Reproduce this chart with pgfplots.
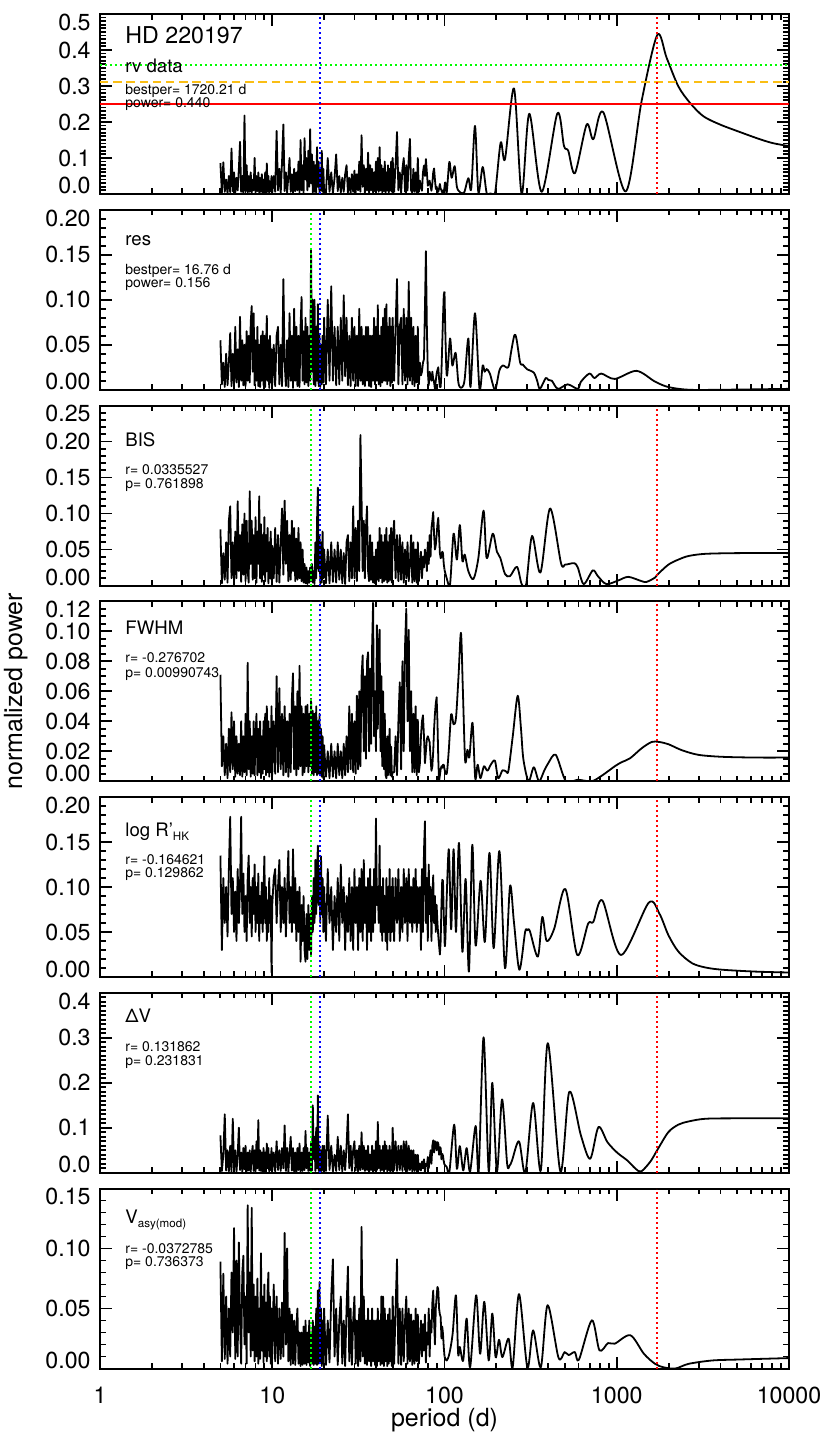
\documentclass[border=0pt]{standalone}
\usepackage{pgfplots}
\pgfplotsset{compat=1.18}
\usepackage{pgfplotstable}
\usepackage{fontspec}
\setmainfont{TeX Gyre Heros}
\definecolor{cgreen}{RGB}{0,255,0}
\definecolor{cblue}{RGB}{0,0,255}
\definecolor{cred}{RGB}{255,0,0}
\definecolor{corange}{RGB}{250,190,20}
\newcommand{\yb}[1]{\smash{#1}}
\newcommand{\yt}[1]{\raisebox{-8.2pt}[0pt][0pt]{#1}}
\newcommand{\lab}{\fontsize{9.3}{11}\selectfont}
\newcommand{\sml}{\fontsize{7}{8}\selectfont}
\newcommand{\sub}[1]{\raisebox{-2pt}{\fontsize{5.8}{6}\selectfont #1}}

\pgfplotstableread{
P a b c d e f g
5.0 0.086 0.055 0.078 0.071 0.135 0.083 0.089
5.1 0.004 0.006 0.003 0.010 0.030 0.004 0.006
5.2 0.088 0.030 0.045 0.030 0.110 0.040 0.079
5.3 0.006 0.003 0.008 0.004 0.060 0.130 0.008
5.4 0.040 0.040 0.060 0.025 0.100 0.005 0.060
5.5 0.002 0.005 0.004 0.002 0.045 0.050 0.004
5.6 0.050 0.030 0.090 0.035 0.120 0.003 0.050
5.7 0.005 0.063 0.110 0.006 0.178 0.060 0.010
5.8 0.126 0.004 0.010 0.046 0.070 0.002 0.080
5.9 0.008 0.040 0.060 0.008 0.110 0.120 0.030
6.0 0.060 0.006 0.004 0.040 0.050 0.010 0.117
6.1 0.003 0.070 0.075 0.003 0.095 0.050 0.008
6.2 0.045 0.008 0.010 0.030 0.040 0.002 0.090
6.3 0.010 0.045 0.117 0.005 0.120 0.040 0.010
6.4 0.070 0.003 0.020 0.025 0.060 0.100 0.105
6.5 0.145 0.081 0.070 0.004 0.100 0.006 0.040
6.6 0.006 0.010 0.005 0.040 0.178 0.045 0.004
6.7 0.050 0.055 0.085 0.003 0.070 0.002 0.080
6.8 0.002 0.005 0.015 0.030 0.115 0.055 0.094
6.9 0.218 0.050 0.100 0.006 0.050 0.008 0.020
7.0 0.008 0.004 0.006 0.045 0.090 0.060 0.060
7.1 0.080 0.065 0.090 0.004 0.040 0.003 0.004
7.2 0.004 0.010 0.020 0.079 0.110 0.045 0.136
7.3 0.050 0.060 0.004 0.008 0.135 0.005 0.030
7.4 0.006 0.008 0.131 0.040 0.060 0.050 0.080
7.5 0.060 0.075 0.030 0.003 0.100 0.002 0.010
7.6 0.002 0.093 0.090 0.030 0.045 0.040 0.134
7.7 0.040 0.020 0.008 0.005 0.110 0.060 0.015
7.8 0.010 0.085 0.070 0.040 0.070 0.004 0.070
7.9 0.100 0.005 0.010 0.004 0.125 0.050 0.006
8.0 0.004 0.055 0.095 0.030 0.050 0.003 0.060
8.1 0.050 0.010 0.004 0.045 0.100 0.070 0.010
8.2 0.008 0.070 0.075 0.004 0.060 0.010 0.075
8.3 0.060 0.004 0.030 0.035 0.115 0.117 0.004
8.4 0.003 0.050 0.124 0.006 0.040 0.005 0.050
8.5 0.045 0.003 0.010 0.040 0.090 0.050 0.008
8.6 0.006 0.060 0.085 0.002 0.060 0.004 0.096
8.7 0.055 0.010 0.005 0.030 0.105 0.045 0.015
8.8 0.004 0.065 0.070 0.005 0.050 0.002 0.060
8.9 0.040 0.005 0.015 0.040 0.095 0.055 0.005
9.0 0.010 0.060 0.095 0.008 0.134 0.008 0.070
9.1 0.060 0.003 0.006 0.045 0.060 0.045 0.010
9.2 0.002 0.045 0.070 0.004 0.100 0.002 0.055
9.3 0.085 0.082 0.020 0.050 0.040 0.065 0.006
9.4 0.006 0.010 0.080 0.006 0.085 0.010 0.065
9.5 0.050 0.055 0.003 0.040 0.050 0.055 0.080
9.6 0.003 0.002 0.060 0.003 0.110 0.003 0.010
9.7 0.035 0.060 0.010 0.035 0.060 0.040 0.060
9.8 0.008 0.008 0.075 0.006 0.090 0.006 0.004
9.9 0.050 0.045 0.008 0.050 0.005 0.055 0.050
10.0 0.004 0.005 0.055 0.004 0.080 0.004 0.008
10.2 0.050 0.050 0.010 0.040 0.110 0.045 0.070
10.4 0.006 0.004 0.080 0.005 0.120 0.003 0.006
10.6 0.175 0.060 0.005 0.070 0.060 0.070 0.060
10.8 0.010 0.070 0.070 0.006 0.100 0.006 0.004
11.0 0.070 0.006 0.004 0.062 0.130 0.050 0.050
11.2 0.003 0.050 0.060 0.008 0.050 0.004 0.008
11.4 0.090 0.004 0.107 0.045 0.100 0.055 0.055
11.6 0.193 0.123 0.015 0.004 0.060 0.010 0.010
11.8 0.008 0.030 0.118 0.050 0.110 0.105 0.113
12.0 0.060 0.004 0.030 0.006 0.045 0.004 0.020
12.2 0.004 0.055 0.090 0.040 0.095 0.055 0.100
12.4 0.050 0.003 0.006 0.003 0.140 0.002 0.006
12.6 0.100 0.085 0.070 0.045 0.060 0.045 0.050
12.8 0.006 0.010 0.008 0.006 0.100 0.080 0.003
13.0 0.055 0.060 0.090 0.055 0.050 0.005 0.045
13.2 0.002 0.002 0.020 0.072 0.142 0.055 0.004
13.4 0.070 0.090 0.080 0.008 0.060 0.003 0.040
13.6 0.008 0.010 0.006 0.050 0.110 0.045 0.003
13.8 0.060 0.070 0.065 0.004 0.040 0.002 0.035
14.0 0.010 0.004 0.008 0.060 0.095 0.055 0.050
14.2 0.090 0.060 0.080 0.008 0.050 0.006 0.004
14.4 0.004 0.003 0.010 0.077 0.100 0.065 0.030
14.6 0.150 0.070 0.060 0.010 0.017 0.003 0.002
14.8 0.010 0.103 0.006 0.050 0.080 0.045 0.030
15.0 0.080 0.010 0.050 0.004 0.040 0.004 0.003
15.2 0.004 0.065 0.004 0.045 0.090 0.055 0.035
15.4 0.155 0.006 0.030 0.006 0.030 0.006 0.004
15.6 0.040 0.080 0.003 0.050 0.017 0.093 0.040
15.8 0.100 0.008 0.025 0.010 0.070 0.010 0.003
16.0 0.010 0.070 0.002 0.051 0.020 0.055 0.030
16.2 0.120 0.004 0.020 0.006 0.080 0.004 0.005
16.4 0.020 0.060 0.004 0.045 0.030 0.045 0.040
16.6 0.180 0.010 0.025 0.010 0.070 0.004 0.002
16.8 0.030 0.156 0.006 0.055 0.025 0.065 0.030
17.0 0.110 0.020 0.030 0.005 0.090 0.005 0.004
17.2 0.004 0.100 0.004 0.047 0.050 0.150 0.040
17.4 0.090 0.006 0.020 0.004 0.110 0.030 0.003
17.6 0.006 0.100 0.002 0.045 0.060 0.080 0.035
17.8 0.080 0.004 0.060 0.006 0.130 0.004 0.004
18.0 0.004 0.070 0.010 0.050 0.070 0.100 0.050
18.2 0.130 0.010 0.090 0.004 0.120 0.010 0.003
18.4 0.020 0.095 0.136 0.040 0.146 0.172 0.065
18.6 0.090 0.004 0.020 0.005 0.080 0.004 0.004
18.8 0.004 0.060 0.070 0.045 0.120 0.060 0.072
19.0 0.070 0.003 0.003 0.004 0.060 0.003 0.006
19.2 0.010 0.050 0.060 0.035 0.134 0.050 0.050
19.4 0.120 0.006 0.004 0.003 0.070 0.004 0.002
19.6 0.006 0.060 0.075 0.030 0.110 0.060 0.040
19.8 0.070 0.008 0.010 0.002 0.050 0.006 0.004
20.0 0.006 0.080 0.050 0.024 0.100 0.060 0.050
20.5 0.004 0.006 0.003 0.003 0.040 0.004 0.003
21.0 0.100 0.100 0.050 0.020 0.120 0.127 0.040
21.5 0.006 0.010 0.003 0.002 0.060 0.006 0.005
22.0 0.060 0.115 0.060 0.025 0.100 0.060 0.060
22.5 0.002 0.010 0.005 0.003 0.030 0.003 0.091
23.0 0.045 0.070 0.050 0.020 0.090 0.040 0.010
23.5 0.110 0.005 0.004 0.002 0.050 0.004 0.050
24.0 0.008 0.070 0.060 0.025 0.110 0.080 0.003
24.5 0.050 0.006 0.008 0.004 0.040 0.006 0.040
25.0 0.004 0.080 0.050 0.020 0.125 0.060 0.060
25.5 0.045 0.010 0.003 0.002 0.060 0.003 0.004
26.0 0.006 0.105 0.045 0.025 0.100 0.050 0.040
26.5 0.055 0.015 0.002 0.004 0.030 0.006 0.002
27.0 0.080 0.080 0.060 0.030 0.090 0.060 0.050
27.5 0.004 0.005 0.070 0.006 0.050 0.130 0.085
28.0 0.045 0.060 0.006 0.050 0.110 0.010 0.006
28.5 0.002 0.004 0.060 0.008 0.040 0.060 0.050
29.0 0.055 0.080 0.010 0.045 0.100 0.004 0.003
29.5 0.006 0.010 0.110 0.006 0.030 0.050 0.040
30.0 0.065 0.070 0.010 0.040 0.120 0.070 0.060
30.5 0.004 0.004 0.080 0.005 0.060 0.005 0.004
31.0 0.055 0.060 0.006 0.057 0.100 0.050 0.040
31.5 0.010 0.004 0.090 0.008 0.030 0.003 0.002
32.0 0.090 0.090 0.020 0.060 0.110 0.060 0.050
32.5 0.006 0.010 0.209 0.010 0.050 0.006 0.006
33.0 0.163 0.070 0.120 0.070 0.120 0.090 0.118
33.5 0.020 0.006 0.020 0.084 0.040 0.008 0.010
34.0 0.080 0.060 0.090 0.020 0.130 0.060 0.060
34.5 0.004 0.004 0.010 0.070 0.060 0.004 0.004
35.0 0.070 0.070 0.080 0.015 0.100 0.050 0.040
35.5 0.010 0.010 0.110 0.080 0.030 0.006 0.003
36.0 0.115 0.070 0.020 0.086 0.110 0.060 0.050
36.5 0.004 0.004 0.006 0.020 0.050 0.002 0.006
37.0 0.080 0.060 0.070 0.075 0.120 0.040 0.040
37.5 0.010 0.003 0.008 0.025 0.040 0.006 0.002
38.0 0.070 0.060 0.060 0.090 0.100 0.060 0.050
38.5 0.004 0.010 0.004 0.119 0.050 0.002 0.006
39.0 0.060 0.080 0.040 0.030 0.120 0.050 0.040
39.5 0.008 0.006 0.003 0.060 0.060 0.005 0.003
40.0 0.090 0.070 0.050 0.020 0.176 0.070 0.040
40.5 0.010 0.010 0.008 0.104 0.080 0.006 0.002
41.0 0.100 0.094 0.060 0.035 0.100 0.113 0.050
41.5 0.006 0.006 0.006 0.090 0.060 0.010 0.006
42.0 0.130 0.060 0.080 0.101 0.146 0.060 0.040
42.5 0.010 0.004 0.010 0.020 0.050 0.004 0.003
43.0 0.080 0.070 0.070 0.070 0.100 0.050 0.060
43.5 0.004 0.008 0.004 0.010 0.040 0.006 0.004
44.0 0.070 0.080 0.060 0.060 0.110 0.060 0.060
44.5 0.008 0.010 0.006 0.008 0.050 0.003 0.002
45.0 0.090 0.090 0.070 0.045 0.090 0.070 0.050
45.5 0.004 0.010 0.008 0.004 0.040 0.008 0.006
46.0 0.060 0.095 0.080 0.002 0.110 0.060 0.040
46.5 0.010 0.006 0.004 0.030 0.030 0.003 0.002
47.0 0.080 0.070 0.060 0.004 0.100 0.050 0.045
47.5 0.004 0.010 0.006 0.020 0.050 0.006 0.004
48.0 0.070 0.080 0.070 0.035 0.120 0.060 0.050
48.5 0.010 0.004 0.008 0.004 0.040 0.002 0.006
49.0 0.090 0.070 0.080 0.023 0.100 0.050 0.040
49.5 0.006 0.008 0.004 0.003 0.050 0.006 0.002
50.0 0.100 0.080 0.060 0.006 0.110 0.100 0.060
51 0.006 0.010 0.090 0.006 0.040 0.006 0.004
52 0.080 0.070 0.010 0.030 0.110 0.070 0.050
53 0.172 0.123 0.070 0.004 0.060 0.004 0.091
54 0.010 0.006 0.006 0.040 0.120 0.060 0.004
55 0.060 0.070 0.070 0.066 0.040 0.006 0.050
56 0.004 0.080 0.008 0.008 0.100 0.060 0.003
57 0.070 0.006 0.060 0.080 0.050 0.004 0.050
58 0.100 0.090 0.004 0.020 0.120 0.070 0.006
59 0.006 0.010 0.050 0.090 0.060 0.006 0.040
60 0.080 0.080 0.010 0.115 0.110 0.070 0.060
61 0.010 0.006 0.060 0.040 0.040 0.004 0.004
62 0.100 0.120 0.006 0.101 0.120 0.060 0.050
63 0.153 0.010 0.030 0.020 0.060 0.006 0.006
64 0.010 0.080 0.070 0.060 0.100 0.050 0.045
65 0.004 0.006 0.004 0.006 0.050 0.003 0.003
66 0.070 0.070 0.060 0.045 0.110 0.050 0.040
67 0.006 0.004 0.006 0.006 0.060 0.004 0.004
68 0.060 0.060 0.050 0.050 0.120 0.040 0.050
69 0.003 0.008 0.004 0.004 0.050 0.003 0.006
70 0.100 0.070 0.060 0.041 0.100 0.040 0.045
71 0.006 0.006 0.006 0.006 0.060 0.006 0.004
72 0.037 0.030 0.030 0.012 0.100 0.020 0.020
73 0.020 0.016 0.047 0.030 0.030 0.005 0.040
74 0.009 0.020 0.010 0.040 0.120 0.025 0.010
75 0.060 0.030 0.040 0.044 0.050 0.010 0.037
76 0.079 0.034 0.025 0.030 0.140 0.030 0.015
77 0.050 0.090 0.050 0.012 0.173 0.000 0.045
78 0.097 0.154 0.041 0.020 0.060 0.020 0.005
79 0.060 0.070 0.020 0.028 0.110 0.015 0.030
80 0.023 0.020 0.060 0.030 0.040 0.035 0.020
81 0.030 0.005 0.030 0.028 0.125 0.010 0.050
82 0.037 0.020 0.070 0.026 0.070 0.030 0.010
83 0.020 0.015 0.040 0.015 0.100 0.050 0.040
84 0.009 0.010 0.080 0.007 0.040 0.020 0.030
85 0.030 0.020 0.090 0.010 0.090 0.060 0.055
86 0.060 0.012 0.102 0.020 0.113 0.072 0.065
87 0.071 0.008 0.070 0.035 0.060 0.045 0.040
88 0.040 0.001 0.050 0.045 0.090 0.070 0.020
89 0.014 0.010 0.056 0.052 0.050 0.068 0.050
90 0.020 0.018 0.070 0.056 0.080 0.050 0.060
91 0.010 0.022 0.085 0.040 0.060 0.068 0.068
92 0.006 0.025 0.094 0.015 0.046 0.066 0.066
93 0.015 0.012 0.070 0.000 0.035 0.040 0.050
94 0.028 0.003 0.045 0.004 0.025 0.057 0.045
95 0.015 0.003 0.038 0.008 0.040 0.055 0.043
96 0.010 0.020 0.040 0.010 0.080 0.030 0.025
97 0.004 0.050 0.047 0.009 0.108 0.042 0.035
98 0.010 0.080 0.045 0.011 0.107 0.038 0.029
99 0.004 0.105 0.030 0.011 0.070 0.025 0.018
100 0.020 0.109 0.022 0.008 0.045 0.018 0.010
}\noisetab

\pgfplotsset{every axis/.append style={
    scale only axis, width=344.5pt, height=90pt,
    xmode=log, xmin=1, xmax=10000, ymin=0,
    anchor=north west,
    xtick={1,10,100,1000,10000},
    minor xtick={2,3,4,5,6,7,8,9,20,30,40,50,60,70,80,90,200,300,400,500,600,700,800,900,2000,3000,4000,5000,6000,7000,8000,9000},
    major tick length=6pt, minor tick length=2.8pt,
    tick style={black, line width=0.9pt},
    axis line style={line width=1pt},
    tick label style={font=\fontsize{11.6}{13}\selectfont},
    yticklabel style={anchor=east, inner sep=0pt, xshift=-4.5pt},
    xticklabel style={anchor=north, inner sep=0pt, yshift=-9.3pt},
}}
\tikzset{
  pdat/.style={black, line width=0.9pt, line join=round},
  psm/.style={black, line width=0.9pt, line join=round, smooth, tension=0.5},
  pdot/.style={line width=1pt, dash pattern=on 0.9pt off 1.6pt},
}

\begin{document}
\begin{tikzpicture}
\useasboundingbox (0,0) rectangle (415pt,-720pt);

% ---------------- panel 1 : rv data
\begin{axis}[at={(50pt,-7pt)}, ymax=0.5, xticklabels={,,,,},
  ytick={0,0.1,0.2,0.3,0.4,0.5}, minor y tick num=9,
  yticklabels={\yb{0.0},0.1,0.2,0.3,0.4,\yt{0.5}}]
\addplot[pdat, mark=none] table[x=P,y=a]{\noisetab};
\addplot[psm, mark=none] coordinates {(100,0.02) (101,0.032) (103,0.004) (106.7,0.089) (110,0.045) (114.6,0.077) (118,0.02) (123,0.005) (130,0.004) (137.5,0.044) (143,0.015) (150.3,0.189) (157.2,0.005) (166.6,0.075) (175.7,0.003) (185,0.002) (196.5,0.002) (211.9,0.143) (224.5,0.097) (253.3,0.293) (280.5,0.0) (310.8,0.223) (366.6,0.006) (451.9,0.224) (494,0.133) (523,0.12) (572,0.058) (669,0.193) (731,0.152) (836,0.227) (1126,0.007) (1395,0.259) (1720,0.442) (1949,0.378) (2278,0.299) (2663,0.253) (3182,0.216) (3977,0.193) (5194,0.172) (6784,0.152) (8110,0.141) (10000,0.133)};
\addplot[pdot, cgreen, mark=none] coordinates {(1,0.359) (10000,0.359)};
\addplot[corange, line width=1pt, dash pattern=on 4.2pt off 2.4pt, mark=none] coordinates {(1,0.310) (10000,0.310)};
\addplot[cred, line width=1pt, mark=none] coordinates {(1,0.249) (10000,0.249)};
\addplot[pdot, cblue, mark=none] coordinates {(18.9,0) (18.9,0.5)};
\addplot[pdot, cred, mark=none] coordinates {(1720.21,0) (1720.21,0.5)};
\end{axis}

% ---------------- panel 2 : res
\begin{axis}[at={(50pt,-104.875pt)}, ymax=0.2, xticklabels={,,,,},
  ytick={0,0.05,0.1,0.15,0.2}, minor y tick num=4,
  yticklabels={\yb{0.00},0.05,0.10,0.15,\yt{0.20}}]
\addplot[pdat, mark=none] table[x=P,y=b]{\noisetab};
\addplot[psm, mark=none] coordinates {(100,0.109) (103,0.016) (107.7,0.057) (111,0.027) (116,0.041) (120,0.01) (122.7,0.003) (127,0.003) (131,0.012) (137.5,0.057) (141.6,0.003) (150.3,0.085) (159.6,0.001) (166.6,0.027) (171,0.02) (175.7,0.023) (183.4,0.018) (196.5,0.0) (208,0.021) (218,0.027) (234.6,0.025) (244,0.043) (254.8,0.061) (262,0.056) (275,0.03) (285,0.028) (300.6,0.023) (330,0.019) (345,0.01) (358,0.001) (387,0.013) (400,0.011) (420,0.01) (455,0.001) (519,0.006) (594,0.001) (620,0.009) (694,0.018) (743,0.013) (813,0.018) (974,0.012) (1302,0.021) (1669,0.009) (1995,0.003) (2613,0.0) (4091,0.0) (10000,0.001)};
\addplot[pdot, cgreen, mark=none] coordinates {(16.76,0) (16.76,0.2)};
\addplot[pdot, cblue, mark=none] coordinates {(18.9,0) (18.9,0.2)};
\end{axis}

% ---------------- panel 3 : BIS
\begin{axis}[at={(50pt,-202.75pt)}, ymax=0.25, xticklabels={,,,,},
  ytick={0,0.05,0.1,0.15,0.2,0.25}, minor y tick num=4,
  yticklabels={\yb{0.00},0.05,0.10,0.15,0.20,\yt{0.25}}]
\addplot[pdat, mark=none] table[x=P,y=c]{\noisetab};
\addplot[psm, mark=none] coordinates {(100,0.022) (103,0.01) (107.7,0.002) (112.9,0.072) (118,0.036) (122.7,0.084) (127,0.034) (131,0.043) (137.5,0.02) (147.2,0.009) (157.2,0.038) (168.6,0.104) (175.7,0.038) (190.6,0.072) (201.5,0.047) (211,0.038) (224.5,0.016) (240,0.013) (263.5,0.026) (280.5,0.002) (298,0.002) (322.5,0.069) (360.5,0.018) (410,0.107) (474.7,0.031) (501,0.029) (530,0.03) (568,0.031) (594,0.025) (643,0.002) (726,0.021) (777,0.013) (870,0.002) (1020,0.007) (1166,0.012) (1395,0.006) (1490,0.005) (1669,0.011) (1720,0.015) (1995,0.029) (2280,0.036) (2613,0.041) (3270,0.044) (5120,0.045) (10000,0.045)};
\addplot[pdot, cgreen, mark=none] coordinates {(16.76,0) (16.76,0.25)};
\addplot[pdot, cblue, mark=none] coordinates {(18.9,0) (18.9,0.25)};
\addplot[pdot, cred, mark=none] coordinates {(1720.21,0) (1720.21,0.25)};
\end{axis}

% ---------------- panel 4 : FWHM
\begin{axis}[at={(50pt,-300.625pt)}, ymax=0.12, xticklabels={,,,,},
  ytick={0,0.02,0.04,0.06,0.08,0.1,0.12}, minor y tick num=3,
  yticklabels={\yb{0.00},0.02,0.04,0.06,0.08,0.10,\yt{0.12}}]
\addplot[pdat, mark=none] table[x=P,y=d]{\noisetab};
\addplot[psm, mark=none] coordinates {(100,0.008) (103,0.005) (105.8,0.02) (109.3,0.0447) (112.9,0.038) (116.6,0.0423) (120.6,0.07) (124.6,0.099) (127.8,0.061) (131.8,0.0137) (135.9,0.021) (139.5,0.016) (145.4,0.039) (150.8,0.002) (155.8,0.011) (161.7,0.002) (169.4,0.01) (177.4,0.007) (185.6,0.011) (196.1,0.0137) (205,0.002) (217,0.0073) (228,0.0065) (235,0.007) (249,0.03) (266,0.057) (278,0.035) (287,0.0147) (307.6,0.0) (329.9,0.0093) (353.6,0.0) (378.7,0.0069) (400,0.012) (442.6,0.0176) (507,0.0) (594,0.001) (713,0.0) (816,0.0036) (974,0.01) (1066,0.0127) (1194,0.0153) (1395,0.022) (1595,0.0262) (1760,0.0262) (1995,0.0247) (2388,0.0207) (2983,0.0176) (4091,0.0163) (6412,0.0158) (10000,0.0158)};
\addplot[pdot, cgreen, mark=none] coordinates {(16.76,0) (16.76,0.12)};
\addplot[pdot, cblue, mark=none] coordinates {(18.9,0) (18.9,0.12)};
\addplot[pdot, cred, mark=none] coordinates {(1720.21,0) (1720.21,0.12)};
\end{axis}

% ---------------- panel 5 : log R'HK
\begin{axis}[at={(50pt,-398.5pt)}, ymax=0.2, xticklabels={,,,,},
  ytick={0,0.05,0.1,0.15,0.2}, minor y tick num=4,
  yticklabels={\yb{0.00},0.05,0.10,0.15,\yt{0.20}}]
\addplot[pdat, mark=none] table[x=P,y=e]{\noisetab};
\addplot[psm, mark=none] coordinates {(100,0.045) (101,0.039) (105.8,0.142) (109.3,0.053) (112.9,0.142) (116.6,0.05) (121.3,0.149) (127,0.028) (132.6,0.109) (138.6,0.006) (145,0.147) (151.6,0.035) (162,0.107) (171.5,0.039) (182.5,0.138) (193,0.032) (208.3,0.14) (224.5,0.0098) (240,0.101) (253,0.061) (272,0.008) (293.7,0.05) (302.7,0.052) (313,0.051) (348.4,0.0227) (369.6,0.0667) (392,0.04) (433.5,0.0538) (503.1,0.0978) (589.5,0.0245) (681.9,0.0593) (731,0.0612) (825.6,0.085) (1058,0.0245) (1532,0.0825) (1770,0.0703) (1995,0.0465) (2280,0.0282) (2733,0.0154) (3270,0.0106) (4091,0.0081) (6412,0.006) (10000,0.005)};
\addplot[pdot, cgreen, mark=none] coordinates {(16.76,0) (16.76,0.2)};
\addplot[pdot, cblue, mark=none] coordinates {(18.9,0) (18.9,0.2)};
\addplot[pdot, cred, mark=none] coordinates {(1720.21,0) (1720.21,0.2)};
\end{axis}

% ---------------- panel 6 : Delta V
\begin{axis}[at={(50pt,-496.375pt)}, ymax=0.4, xticklabels={,,,,},
  ytick={0,0.1,0.2,0.3,0.4}, minor y tick num=9,
  yticklabels={\yb{0.0},0.1,0.2,0.3,\yt{0.4}}]
\addplot[pdat, mark=none] table[x=P,y=f]{\noisetab};
\addplot[psm, mark=none] coordinates {(100,0.018) (103,0.013) (106.7,0.0015) (113.8,0.107) (118,0.0089) (122.7,0.0593) (128.4,0.0052) (134.4,0.0548) (140.8,0.003) (151.6,0.104) (157.9,0.003) (168.6,0.301) (180.6,0.003) (189.4,0.2) (201.5,0.003) (215.8,0.163) (231,0.02) (238.7,0.016) (246.5,0.027) (270.7,0.07) (294.6,0.0) (327,0.155) (362.3,0.005) (398,0.288) (470.5,0.003) (530.2,0.18) (619.4,0.083) (701,0.031) (783,0.1015) (883,0.068) (1007,0.0445) (1151,0.0274) (1287,0.0089) (1387,0.003) (1568,0.025) (1728,0.052) (1995,0.0904) (2280,0.107) (2613,0.114) (3270,0.12) (5120,0.121) (10000,0.121)};
\addplot[pdot, cgreen, mark=none] coordinates {(16.76,0) (16.76,0.4)};
\addplot[pdot, cblue, mark=none] coordinates {(18.9,0) (18.9,0.4)};
\addplot[pdot, cred, mark=none] coordinates {(1720.21,0) (1720.21,0.4)};
\end{axis}

% ---------------- panel 7 : Vasy(mod)
\begin{axis}[at={(50pt,-594.25pt)}, ymax=0.15,
  ytick={0,0.05,0.1,0.15}, minor y tick num=4,
  yticklabels={\yb{0.00},0.05,0.10,\yt{0.15}},
  xticklabels={1,10,100,1000,10000}]
\addplot[pdat, mark=none] table[x=P,y=g]{\noisetab};
\addplot[psm, mark=none] coordinates {(100,0.01) (103,0.0067) (106.7,0.0123) (111.5,0.029) (116.5,0.061) (120,0.0123) (122.7,0.018) (128.4,0.0067) (134.4,0.0416) (140.8,0.001) (152.6,0.061) (161,0.0123) (170.2,0.0556) (180.6,0.0067) (189.4,0.0458) (198,0.0095) (207.3,0.024) (216.8,0.0095) (235.5,0.0249) (248.7,0.001) (270.7,0.062) (302.7,0.001) (327,0.0318) (362.3,0.001) (397,0.0528) (459,0.009) (498,0.0137) (526,0.0112) (571,0.0137) (603,0.0073) (717,0.0402) (794,0.0151) (890,0.0212) (974,0.0207) (1200,0.0277) (1437,0.0123) (1669,0.0039) (1870,0.001) (2190,0.0) (2613,0.0039) (3580,0.0067) (5120,0.0075) (10000,0.0087)};
\addplot[pdot, cgreen, mark=none] coordinates {(16.76,0) (16.76,0.15)};
\addplot[pdot, cblue, mark=none] coordinates {(18.9,0) (18.9,0.15)};
\addplot[pdot, cred, mark=none] coordinates {(1720.21,0) (1720.21,0.15)};
\end{axis}

% ---------------- texts
\begin{scope}[every node/.style={anchor=base west, inner sep=0pt}]
\node[font=\fontsize{11.6}{13}\selectfont] at (62.5pt,-21.65pt) {HD 220197};
\node[font=\lab] at (62.5pt,-36.35pt) {rv data};
\node[font=\sml] at (62.5pt,-47pt) {bestper= 1720.21 d};
\node[font=\sml] at (62.5pt,-53.5pt) {power= 0.440};

\node[font=\lab] at (62.5pt,-122.5pt) {res};
\node[font=\sml] at (62.5pt,-137pt) {bestper= 16.76 d};
\node[font=\sml] at (62.5pt,-143.65pt) {power= 0.156};

\node[font=\lab] at (62.5pt,-223pt) {BIS};
\node[font=\sml] at (62.5pt,-237pt) {r= 0.0335527};
\node[font=\sml] at (62.5pt,-244.4pt) {p= 0.761898};

\node[font=\lab] at (62.5pt,-317pt) {FWHM};
\node[font=\sml] at (62.5pt,-331.35pt) {r= -0.276702};
\node[font=\sml] at (62.5pt,-338.65pt) {p= 0.00990743};

\node[font=\lab] at (62.5pt,-418pt) {log R'\sub{HK}};
\node[font=\sml] at (62.5pt,-432pt) {r= -0.164621};
\node[font=\sml] at (62.5pt,-438.65pt) {p= 0.129862};

\node[font=\lab] at (62.5pt,-511.15pt) {ΔV};
\node[font=\sml] at (62.5pt,-525.85pt) {r= 0.131862};
\node[font=\sml] at (62.5pt,-532.5pt) {p= 0.231831};

\node[font=\lab] at (62.5pt,-611.65pt) {V\sub{asy(mod)}};
\node[font=\sml] at (62.5pt,-626.65pt) {r= -0.0372785};
\node[font=\sml] at (62.5pt,-633.35pt) {p= 0.736373};
\end{scope}

\node[anchor=base, inner sep=0pt, font=\fontsize{12.5}{14}\selectfont] at (222.25pt,-713pt) {period (d)};
\node[anchor=base, inner sep=0pt, rotate=90, font=\fontsize{12.5}{14}\selectfont] at (11pt,-345.6pt) {normalized power};
\end{tikzpicture}
\end{document}
